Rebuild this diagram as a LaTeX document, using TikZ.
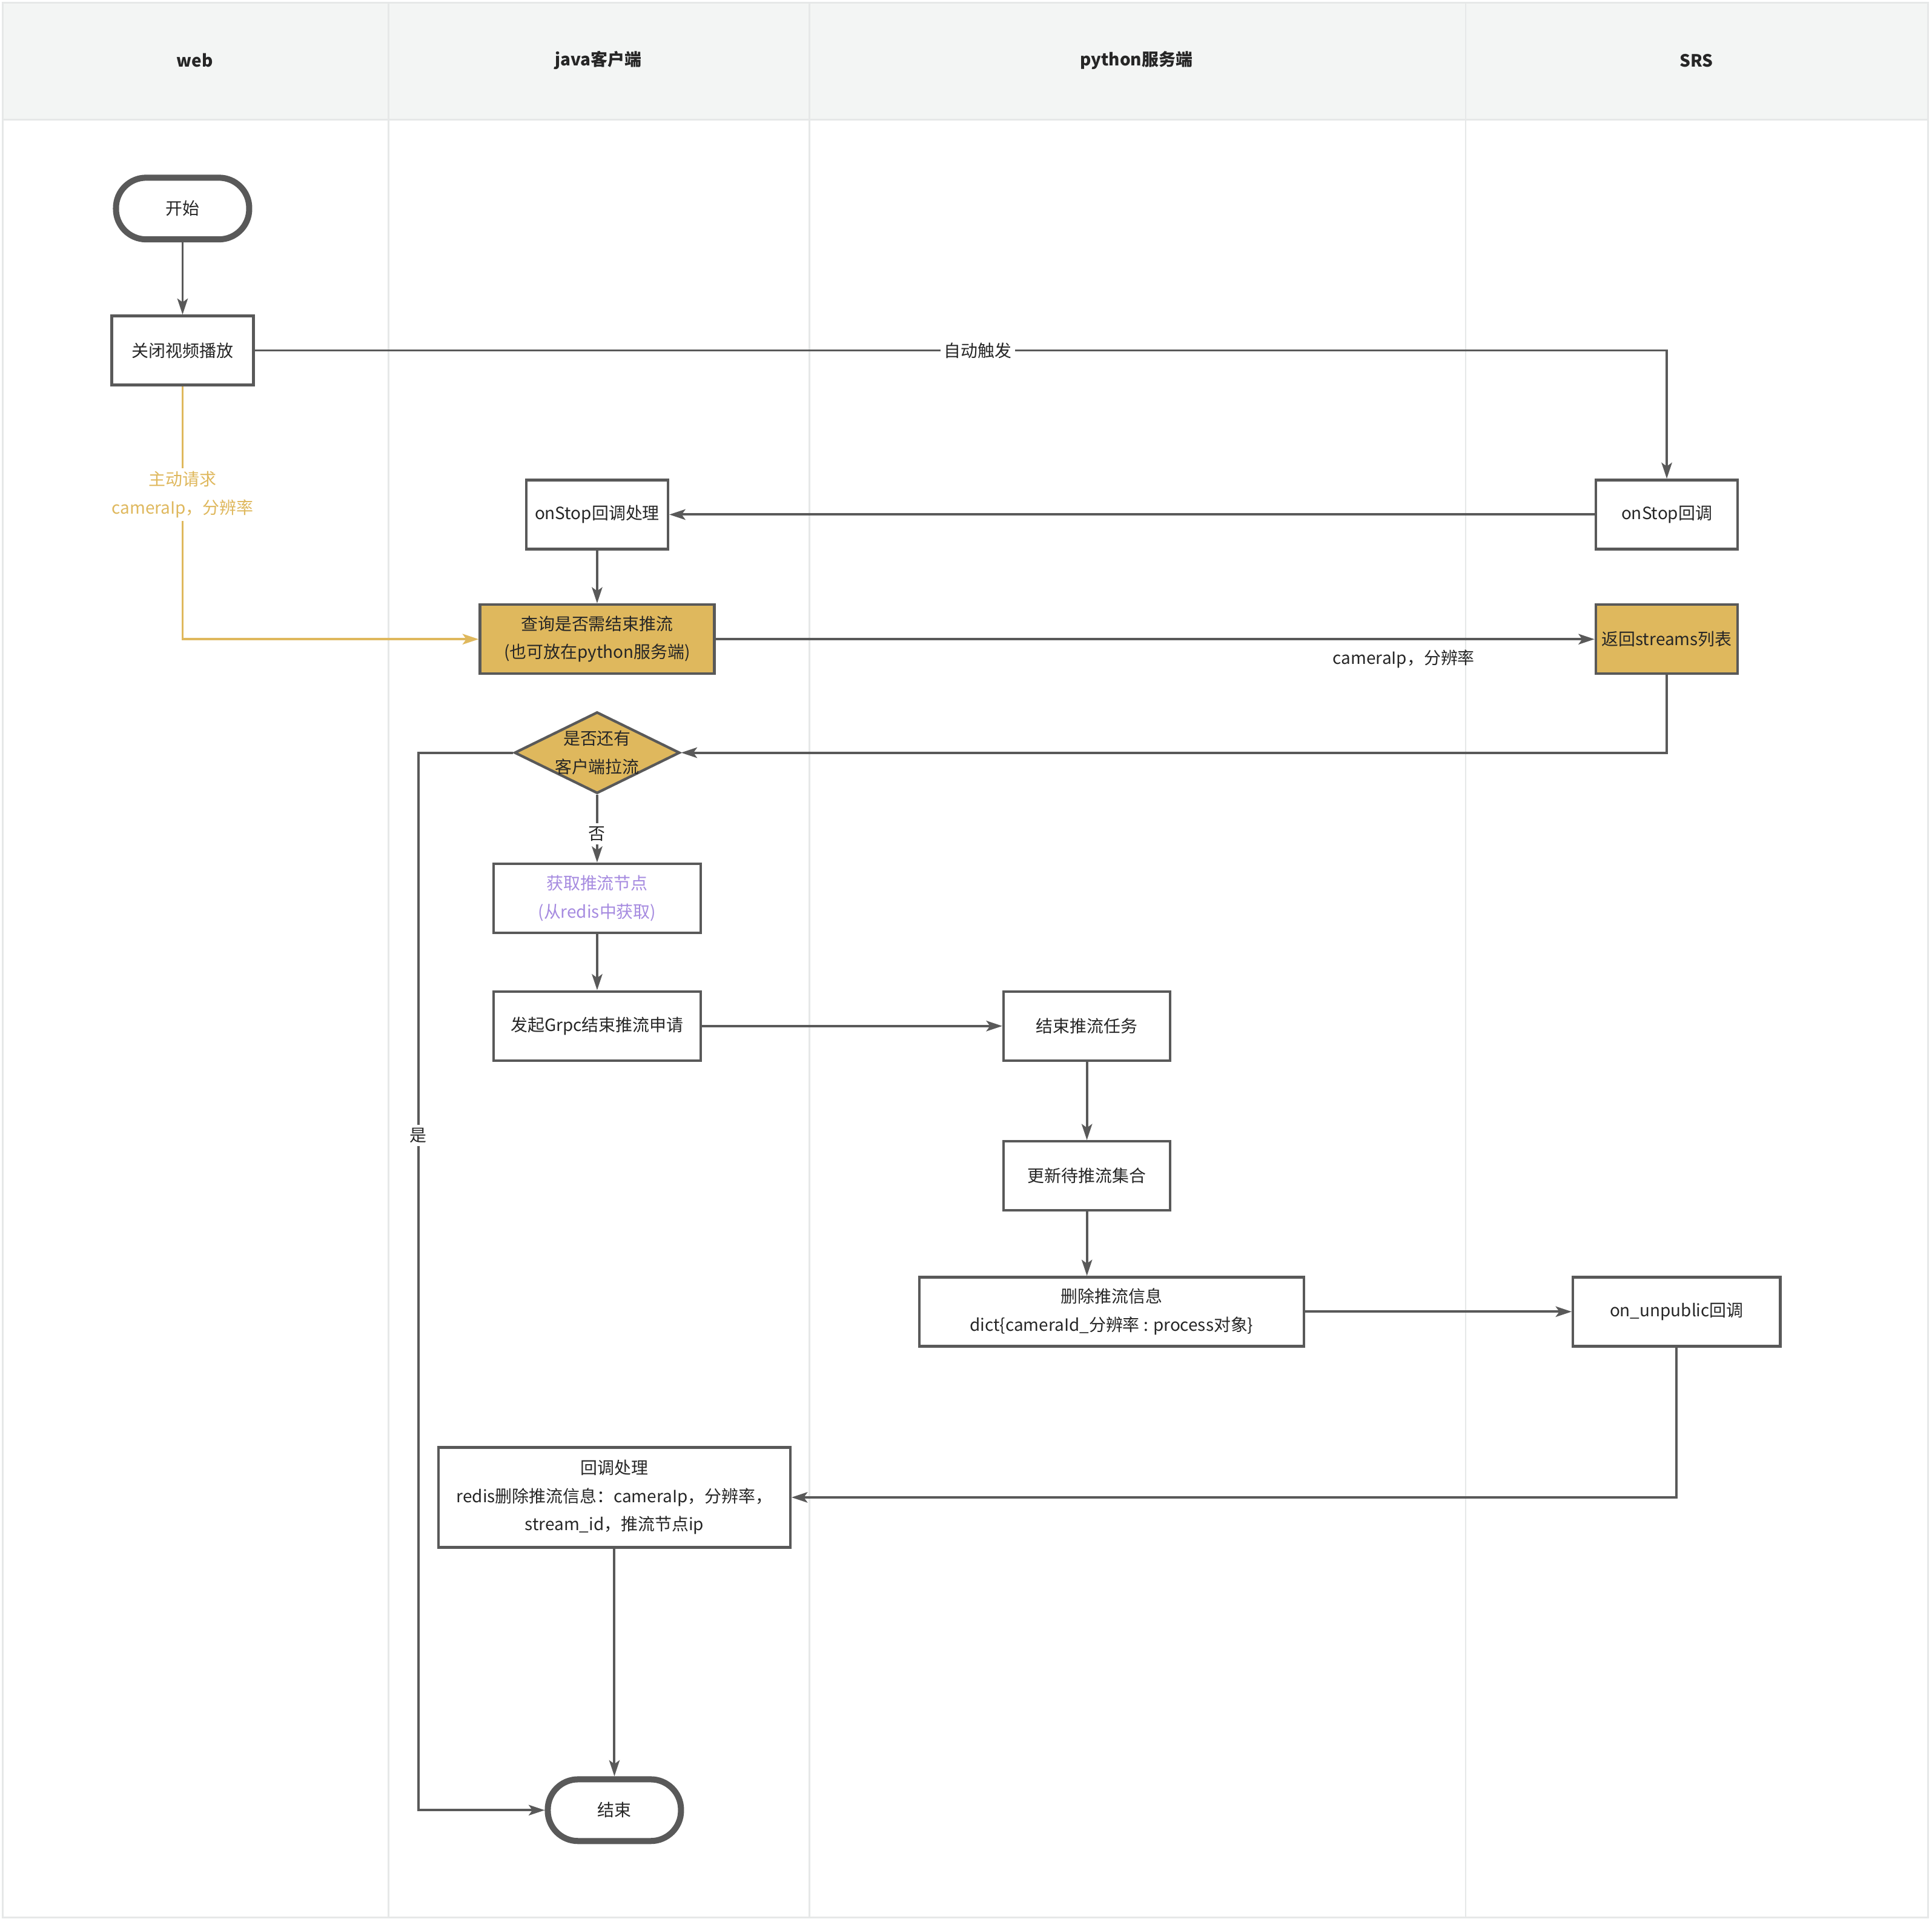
\documentclass[tikz,border=0pt]{standalone}
\usepackage{fontspec}
\setmainfont{Noto Sans CJK SC}
\usetikzlibrary{arrows.meta,shapes.geometric}
\definecolor{line-gray}{HTML}{595959}
\definecolor{lane-gray}{HTML}{E6E8E8}
\definecolor{head-gray}{HTML}{F3F5F4}
\definecolor{gold}{HTML}{DFB85D}
\definecolor{violet}{HTML}{A68BE0}
\tikzset{
    flow-box/.style = {draw=line-gray, fill=white, line width=1.2pt, rectangle, inner sep=0pt, minimum height=1.12cm, align=center, text=black!85},
    flow-gold/.style = {flow-box, fill=gold},
    flow-term/.style = {draw=line-gray, fill=white, line width=2.8pt, rectangle, rounded corners=0.49cm, minimum width=2.16cm, minimum height=1cm, text=black!85},
    flow-diamond/.style = {draw=line-gray, fill=gold, line width=1.2pt, diamond, inner sep=0pt, minimum width=2.68cm, minimum height=1.32cm},
    flow-line/.style = {draw=line-gray, line width=1.1pt, -{Stealth[length=2.6mm, width=1.7mm, inset=0.6mm]}},
    flow-req/.style = {flow-line, draw=gold},
    flow-label/.style = {fill=white, inner sep=1.5pt, align=center, text=black!85},
    lane-title/.style = {font=\fontsize{7.8}{13}\selectfont\bfseries, text=black!85},
}

\begin{document}
\begin{tikzpicture}[x=0.02cm, y=-0.02cm, font=\fontsize{7.8}{13}\selectfont]
\useasboundingbox (0,0) rectangle (1566,1555);
\fill[white] (0,0) rectangle (1566,1555);
\fill[head-gray] (2,2) rectangle (1563,97);
\draw[lane-gray, line width=0.8pt] (2,97) -- (1563,97);
\draw[lane-gray, line width=0.8pt] (315,2) -- (315,1554) (656,2) -- (656,1554) (1188,2) -- (1188,1554);
\draw[lane-gray, line width=0.8pt] (2,2) rectangle (1563,1554);
\node[lane-title] (lane-web) at (158,49) {web};
\node[lane-title] (lane-java) at (485,49) {java客户端};
\node[lane-title] (lane-python) at (921,49) {python服务端};
\node[lane-title] (lane-srs) at (1375,49) {SRS};

\node[flow-term] (start) at (148,169) {开始};
\node[flow-box, minimum width=2.3cm] (close) at (148,284) {关闭视频播放};
\node[flow-box, minimum width=2.3cm] (java-stop) at (484,417) {onStop回调处理};
\node[flow-box, minimum width=2.3cm] (srs-stop) at (1351,417) {onStop回调};
\node[flow-gold, minimum width=3.8cm] (query) at (484,518) {查询是否需结束推流\\(也可放在python服务端)};
\node[flow-gold, minimum width=2.3cm] (streams) at (1351,518) {返回streams列表};
\node[flow-diamond] (ask) at (484,610) {};
\node[align=center, text=black!85] (ask-text) at (ask.center) {是否还有\\客户端拉流};
\node[flow-box, minimum width=3.36cm, text=violet] (fetch) at (484,728) {获取推流节点\\(从redis中获取)};
\node[flow-box, minimum width=3.36cm] (grpc) at (484,831.5) {发起Grpc结束推流申请};
\node[flow-box, minimum width=2.7cm] (task) at (881,831.5) {结束推流任务};
\node[flow-box, minimum width=2.7cm] (update) at (881,953) {更新待推流集合};
\node[flow-box, minimum width=6.24cm] (del-info) at (901,1063) {删除推流信息\\dict\{cameraId\_分辨率 : process对象\}};
\node[flow-box, minimum width=3.36cm] (unpub) at (1359,1063) {on\_unpublic回调};
\node[flow-box, minimum width=5.7cm, minimum height=1.62cm] (callback) at (498,1213.5) {回调处理\\redis删除推流信息：cameraIp，分辨率，\\stream\_id，推流节点ip};
\node[flow-term] (end) at (498,1467) {结束};
\coordinate (yes-turn) at (339,610);

\draw[flow-line] (start) -- (close);
\draw[flow-line] (close.east) -| node[flow-label, pos=0.256] (auto-label) {自动触发} (srs-stop.north);
\draw[flow-req] (close.south) |- node[flow-label, pos=0.214, text=gold] (req-label) {主动请求\\cameraIp，分辨率} (query.west);
\draw[flow-line] (srs-stop.west) -- (java-stop.east);
\draw[flow-line] (java-stop) -- (query);
\draw[flow-line] (query.east) -- node[pos=0.783, below=1pt, text=black!85] (param-label) {cameraIp，分辨率} (streams.west);
\draw[flow-line] (streams.south) |- (ask.east);
\draw[flow-line] (ask.south) -- node[flow-label, pos=0.58] (no-label) {否} (fetch.north);
\draw[flow-line] (ask.west) -- (yes-turn) |- node[flow-label, pos=0.181] (yes-label) {是} (end.west);
\draw[flow-line] (fetch) -- (grpc);
\draw[flow-line] (grpc.east) -- (task.west);
\draw[flow-line] (task) -- (update);
\draw[flow-line] (update.south) -- (update.south |- del-info.north);
\draw[flow-line] (del-info.east) -- (unpub.west);
\draw[flow-line] (unpub.south) |- (callback.east);
\draw[flow-line] (callback.south) -- (end.north);
\end{tikzpicture}
\end{document}
